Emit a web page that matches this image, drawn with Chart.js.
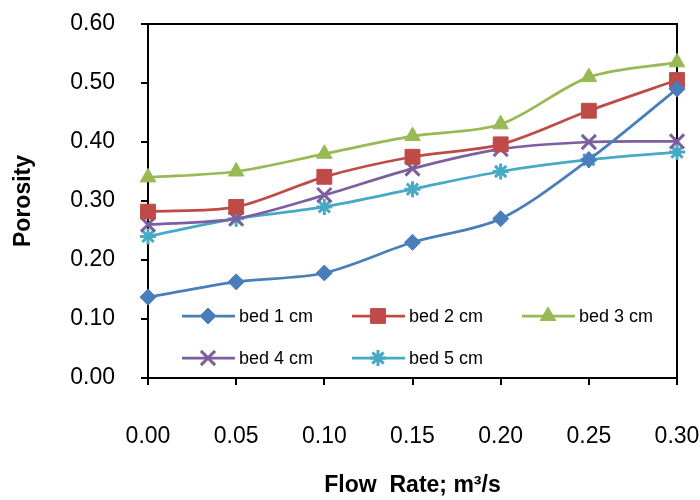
<!DOCTYPE html>
<html>
<head>
<meta charset="utf-8">
<script src="https://cdn.jsdelivr.net/npm/chart.js@4/dist/chart.umd.min.js"></script>
<style>
  html, body { margin: 0; padding: 0; background: #fff; }
  #wrap { width: 700px; height: 500px; }
</style>
</head>
<body>
<div id="wrap"><canvas id="porosityChart" width="700" height="500"></canvas></div>
<script>
// datos
const flowRates = [0.00, 0.05, 0.10, 0.15, 0.20, 0.25, 0.30];
const bed1 = [0.137, 0.163, 0.178, 0.230, 0.270, 0.370, 0.490];
const bed2 = [0.282, 0.290, 0.341, 0.375, 0.396, 0.453, 0.505];
const bed3 = [0.340, 0.350, 0.380, 0.410, 0.430, 0.510, 0.535];
const bed4 = [0.260, 0.270, 0.310, 0.355, 0.388, 0.400, 0.401];
const bed5 = [0.240, 0.270, 0.290, 0.320, 0.350, 0.370, 0.383];
const seriesNames = ['bed 1 cm', 'bed 2 cm', 'bed 3 cm', 'bed 4 cm', 'bed 5 cm'];
const yTicks = [0.00, 0.10, 0.20, 0.30, 0.40, 0.50, 0.60];

const colors = ['#4a7ebb', '#be4b48', '#98b954', '#7d5fa0', '#46aac5'];
const styles = ['rectRot', 'rect', 'triangle', 'crossRot', 'star'];
const radii = [8, 10.5, 9, 10, 8];
const FONT = '"Liberation Sans", Arial, sans-serif';

function toPoints(vals) {
    return vals.map(function(v, i) { return { x: flowRates[i], y: v }; });
}

const datasets = [bed1, bed2, bed3, bed4, bed5].map(function(vals, i) {
    return {
        label: seriesNames[i],
        data: toPoints(vals),
        borderColor: colors[i],
        backgroundColor: colors[i],
        borderWidth: 2.75,
        pointStyle: styles[i],
        pointRadius: radii[i],
        pointBorderWidth: (i >= 3) ? 3 : 1,
        pointBorderColor: colors[i],
        pointBackgroundColor: colors[i],
        tension: 0.3,
        clip: false,
        fill: false
    };
});

// caja alrededor del area de trazado
const boxPlugin = {
    id: 'boxPlugin',
    beforeDatasetsDraw: function(chart) {
        const a = chart.chartArea;
        const ctx = chart.ctx;
        ctx.save();
        ctx.strokeStyle = '#000';
        ctx.lineWidth = 2;
        ctx.strokeRect(a.left, a.top, a.right - a.left, a.bottom - a.top);
        ctx.restore();
    }
};

// leyenda dentro del grafico (3 columnas)
const legendPlugin = {
    id: 'insideLegend',
    afterDatasetsDraw: function(chart) {
        const ctx = chart.ctx;
        const cols = [182, 352, 522];
        const rows = [316, 358];
        ctx.save();
        chart.data.datasets.forEach(function(ds, i) {
            const x = cols[i % 3];
            const y = rows[Math.floor(i / 3)];
            ctx.strokeStyle = ds.borderColor;
            ctx.lineWidth = 2.75;
            ctx.beginPath();
            ctx.moveTo(x, y);
            ctx.lineTo(x + 53, y);
            ctx.stroke();
            ctx.fillStyle = ds.backgroundColor;
            ctx.strokeStyle = ds.borderColor;
            ctx.lineWidth = ds.pointBorderWidth;
            Chart.helpers.drawPoint(ctx, {
                pointStyle: ds.pointStyle,
                rotation: 0,
                radius: ds.pointRadius,
                borderWidth: ds.pointBorderWidth
            }, x + 26, y);
            ctx.fillStyle = '#000';
            ctx.font = '18px ' + FONT;
            ctx.textBaseline = 'middle';
            ctx.textAlign = 'left';
            ctx.fillText(ds.label, x + 57, y + 1);
        });
        ctx.restore();
    }
};

new Chart(document.getElementById('porosityChart'), {
    type: 'line',
    data: { datasets: datasets },
    plugins: [boxPlugin, legendPlugin],
    options: {
        responsive: false,
        animation: false,
        layout: { padding: { top: 24, right: 23, left: 0, bottom: 0 } },
        plugins: {
            legend: { display: false },
            tooltip: { enabled: false }
        },
        scales: {
            x: {
                type: 'linear',
                min: 0,
                max: 0.3,
                afterFit: function(scale) {
                    scale.height = 122;
                    scale.paddingLeft = 0;
                    scale.paddingRight = 0;
                },
                ticks: {
                    stepSize: 0.05,
                    padding: 38,
                    color: '#000',
                    font: { size: 23, family: FONT },
                    callback: function(v) { return Number(v).toFixed(2); }
                },
                grid: { drawOnChartArea: false, tickLength: 7, color: '#000', lineWidth: 2 },
                border: { color: '#000', width: 2 },
                title: {
                    display: true,
                    text: 'Flow  Rate; m\u00b3/s',
                    color: '#000',
                    font: { size: 23, weight: 'bold', family: FONT },
                    padding: { top: 10, bottom: 1 }
                }
            },
            y: {
                min: 0,
                max: 0.6,
                afterFit: function(scale) {
                    scale.width = 148;
                    scale.paddingTop = 0;
                    scale.paddingBottom = 0;
                },
                afterBuildTicks: function(scale) {
                    scale.ticks = yTicks.map(function(v) { return { value: v }; });
                },
                ticks: {
                    padding: 26,
                    color: '#000',
                    font: { size: 23, family: FONT },
                    callback: function(v) { return Number(v).toFixed(2); }
                },
                grid: { drawOnChartArea: false, tickLength: 7, color: '#000', lineWidth: 2 },
                border: { color: '#000', width: 2 },
                title: {
                    display: true,
                    text: 'Porosity',
                    color: '#000',
                    font: { size: 23, weight: 'bold', family: FONT },
                    padding: { top: 10, bottom: 0 }
                }
            }
        }
    }
});
</script>
</body>
</html>
